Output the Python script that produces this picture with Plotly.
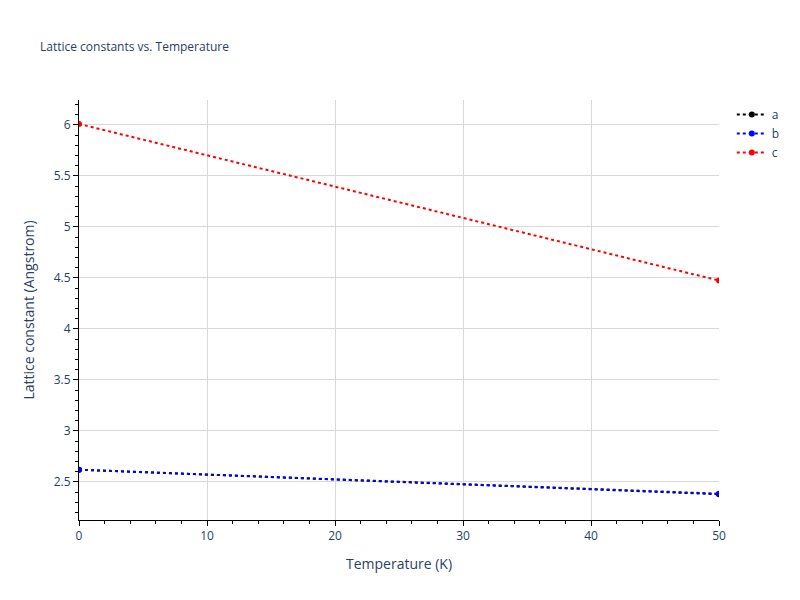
import plotly.graph_objects as go

temps = [0, 50]
a_vals = [2.62, 2.38]
b_vals = [2.62, 2.385]
c_vals = [6.01, 4.475]

fig = go.Figure()
for name, vals, col in [("a", a_vals, "black"), ("b", b_vals, "blue"), ("c", c_vals, "red")]:
    fig.add_trace(go.Scatter(x=temps, y=vals, name=name, mode="lines+markers",
                             line=dict(color=col, dash="dot", width=2), marker=dict(color=col, size=6)))

axis_common = dict(showline=True, linecolor="black", ticks="outside", tickcolor="black",
                   gridcolor="#d9d9d9", zeroline=False,
                   minor=dict(ticks="outside", tickcolor="black", ticklen=3, showgrid=False))
fig.update_layout(
    width=800, height=600, template="plotly_white",
    title=dict(text="Lattice constants vs. Temperature", x=0.04, y=0.943, font=dict(size=12)),
    margin=dict(l=71, r=89, t=92, b=88),
    xaxis=dict(title="Temperature (K)", range=[0, 50], dtick=10, **axis_common),
    yaxis=dict(title="Lattice constant (Angstrom)", range=[2.127, 6.245], dtick=0.5, **axis_common),
)
fig.update_xaxes(minor=dict(dtick=2))
fig.update_yaxes(minor=dict(dtick=0.1))
fig.write_html("out.html")
